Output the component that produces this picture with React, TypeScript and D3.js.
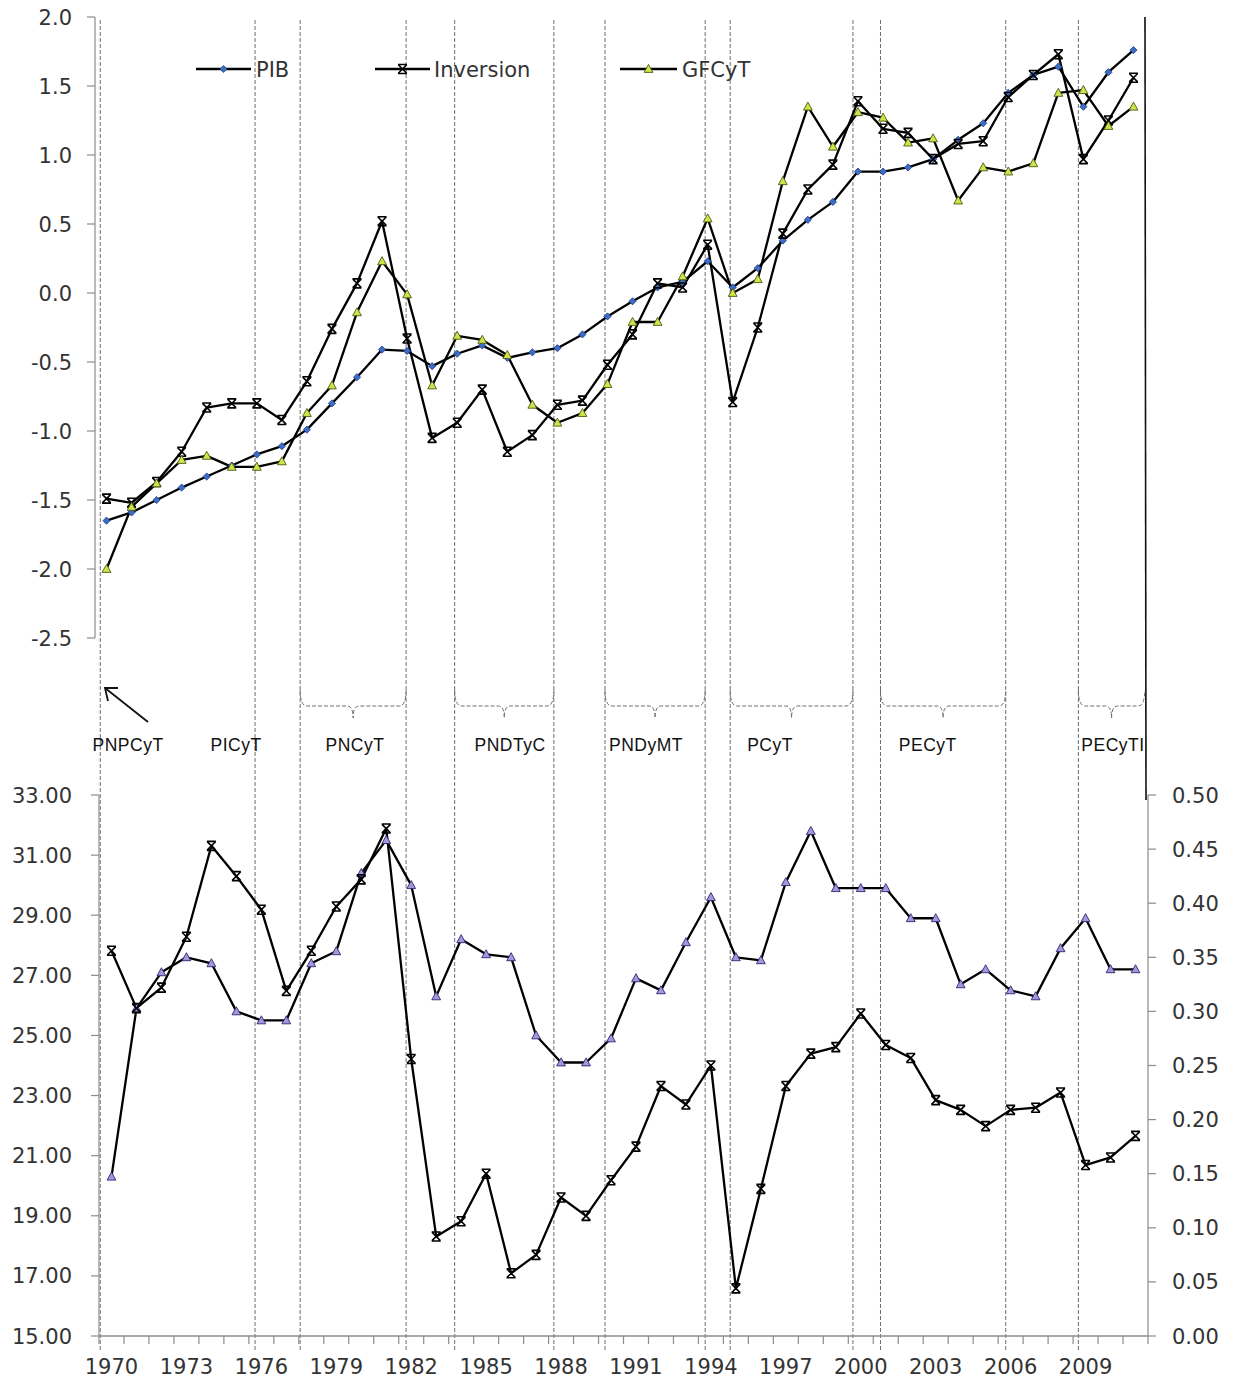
import React, { useEffect } from "react";
import * as d3 from "d3";

// Years on the horizontal axis
const years: number[] = [
  1970, 1971, 1972, 1973, 1974, 1975, 1976, 1977, 1978, 1979, 1980, 1981, 1982, 1983,
  1984, 1985, 1986, 1987, 1988, 1989, 1990, 1991, 1992, 1993, 1994, 1995, 1996, 1997,
  1998, 1999, 2000, 2001, 2002, 2003, 2004, 2005, 2006, 2007, 2008, 2009, 2010, 2011,
];

// Standardised series (upper panel)
const pib: number[] = [
  -1.65, -1.59, -1.5, -1.41, -1.33, -1.25, -1.17, -1.11, -0.99, -0.8, -0.61, -0.41, -0.42, -0.53,
  -0.44, -0.38, -0.47, -0.43, -0.4, -0.3, -0.17, -0.06, 0.04, 0.08, 0.23, 0.04, 0.18, 0.38,
  0.53, 0.66, 0.88, 0.88, 0.91, 0.97, 1.11, 1.23, 1.45, 1.58, 1.64, 1.35, 1.6, 1.76,
];
const inversion: number[] = [
  -1.49, -1.52, -1.37, -1.15, -0.83, -0.8, -0.8, -0.92, -0.64, -0.26, 0.07, 0.52, -0.33, -1.05,
  -0.94, -0.7, -1.15, -1.03, -0.81, -0.78, -0.52, -0.3, 0.07, 0.04, 0.35, -0.79, -0.25, 0.43,
  0.75, 0.93, 1.39, 1.19, 1.16, 0.97, 1.08, 1.1, 1.42, 1.58, 1.73, 0.97, 1.25, 1.56,
];
const gfcyt: number[] = [
  -2.0, -1.55, -1.38, -1.21, -1.18, -1.26, -1.26, -1.22, -0.87, -0.67, -0.14, 0.23, -0.01, -0.67,
  -0.31, -0.34, -0.45, -0.81, -0.94, -0.87, -0.66, -0.21, -0.21, 0.12, 0.54, 0.0, 0.1, 0.81,
  1.35, 1.06, 1.31, 1.27, 1.09, 1.12, 0.67, 0.91, 0.88, 0.94, 1.45, 1.47, 1.21, 1.35,
];

// Lower panel: left-axis series (triangles) and right-axis series (crosses)
const serieIzquierda: number[] = [
  20.3, 25.9, 27.1, 27.6, 27.4, 25.8, 25.5, 25.5, 27.4, 27.8, 30.4, 31.5, 30.0, 26.3,
  28.2, 27.7, 27.6, 25.0, 24.1, 24.1, 24.9, 26.9, 26.5, 28.1, 29.6, 27.6, 27.5, 30.1,
  31.8, 29.9, 29.9, 29.9, 28.9, 28.9, 26.7, 27.2, 26.5, 26.3, 27.9, 28.9, 27.2, 27.2,
];
const serieDerecha: number[] = [
  0.356, 0.303, 0.322, 0.369, 0.453, 0.425, 0.394, 0.319, 0.356, 0.397, 0.422, 0.469, 0.256, 0.092,
  0.106, 0.15, 0.058, 0.075, 0.128, 0.111, 0.144, 0.175, 0.231, 0.214, 0.25, 0.044, 0.136, 0.231,
  0.261, 0.267, 0.298, 0.269, 0.257, 0.218, 0.209, 0.194, 0.209, 0.211, 0.225, 0.158, 0.165, 0.185,
];

// Axis ticks
const topTicks: number[] = [2.0, 1.5, 1.0, 0.5, 0.0, -0.5, -1.0, -1.5, -2.0, -2.5];
const leftTicks: number[] = [33, 31, 29, 27, 25, 23, 21, 19, 17, 15];
const rightTicks: number[] = [0.5, 0.45, 0.4, 0.35, 0.3, 0.25, 0.2, 0.15, 0.1, 0.05, 0.0];
const yearLabels: number[] = [1970, 1973, 1976, 1979, 1982, 1985, 1988, 1991, 1994, 1997, 2000, 2003, 2006, 2009];

// Policy periods (in fractional years)
const periodNames: string[] = ["PNPCyT", "PICyT", "PNCyT", "PNDTyC", "PNDyMT", "PCyT", "PECyT", "PECyTI"];
const periodStarts: number[] = [1969.75, 1975.93, 1977.73, 1983.9, 1989.9, 1994.9, 2000.9, 2008.8];
const periodEnds: number[] = [1975.93, 1977.73, 1981.96, 1987.86, 1993.9, 1999.8, 2005.9, 2011.45];
const periodBraced: boolean[] = [false, false, true, true, true, true, true, true];
const periodLabelAt: number[] = [1970.86, 1975.17, 1979.92, 1986.11, 1991.54, 1996.49, 2002.79, 2010.18];

const AXIS = "#8c8c8c";
const TEXT = "#333333";
const FONT = "'DejaVu Sans', sans-serif";

const diamond = "M0,-3.6L3.6,0L0,3.6L-3.6,0Z";
const triangle = "M0,-4.6L4.4,3.4L-4.4,3.4Z";
const crossBar = "M-4.5,-4.5H4.5M-4.5,4.5H4.5M-4.2,-4.2L4.2,4.2M4.2,-4.2L-4.2,4.2";

type MarkerKind = "diamond" | "triangle" | "cross" | "triangleP";

function Marker({ kind, x, y }: { kind: MarkerKind; x: number; y: number }) {
  const t = `translate(${x},${y})`;
  if (kind === "diamond")
    return <path d={diamond} transform={t} fill="#3d6cc4" stroke="#1f3f88" strokeWidth={0.8} />;
  if (kind === "triangle")
    return <path d={triangle} transform={t} fill="#d2e24c" stroke="#4a5a10" strokeWidth={0.9} />;
  if (kind === "triangleP")
    return <path d={triangle} transform={t} fill="#a396dc" stroke="#2e2670" strokeWidth={0.9} />;
  return <path d={crossBar} transform={t} fill="none" stroke="#000" strokeWidth={1.6} />;
}

export default function App() {
  useEffect(() => {
    document.body.style.margin = "0";
  }, []);

  const W = 1233;
  const H = 1386;

  // Upper panel scales
  const xTop = d3.scaleBand<number>().domain(years).range([94, 1146]);
  const cxTop = (yr: number) => (xTop(yr) as number) + xTop.bandwidth() / 2;
  const yTop = d3.scaleLinear().domain([-2.5, 2.0]).range([638, 17]);
  const yearX = d3.scaleLinear().domain([1970, 2011]).range([cxTop(1970), cxTop(2011)]);

  // Lower panel scales
  const xBot = d3.scaleBand<number>().domain(years).range([99, 1148]);
  const cxBot = (yr: number) => (xBot(yr) as number) + xBot.bandwidth() / 2;
  const yLeft = d3.scaleLinear().domain([15, 33]).range([1336, 795]);
  const yRight = d3.scaleLinear().domain([0, 0.5]).range([1336, 795]);

  const lineTop = d3
    .line<number>()
    .x((_, i) => cxTop(years[i]))
    .y((d) => yTop(d));
  const lineLeft = d3
    .line<number>()
    .x((_, i) => cxBot(years[i]))
    .y((d) => yLeft(d));
  const lineRight = d3
    .line<number>()
    .x((_, i) => cxBot(years[i]))
    .y((d) => yRight(d));

  const boundaries = Array.from(new Set([...periodStarts, ...periodEnds.slice(0, -1)])).sort((a, b) => a - b);

  const topSeries: { data: number[]; kind: MarkerKind }[] = [
    { data: pib, kind: "diamond" },
    { data: inversion, kind: "cross" },
    { data: gfcyt, kind: "triangle" },
  ];

  const braceY = 706;
  const bracePath = (x0: number, x1: number) => {
    const xm = (x0 + x1) / 2;
    return `M${x0},690 Q${x0},${braceY} ${x0 + 7},${braceY} L${xm - 6},${braceY} Q${xm},${braceY} ${xm},${braceY + 12} Q${xm},${braceY} ${xm + 6},${braceY} L${x1 - 7},${braceY} Q${x1},${braceY} ${x1},690`;
  };

  const legend = [
    { name: "PIB", kind: "diamond" as MarkerKind, x0: 196, x1: 251, tx: 256 },
    { name: "Inversion", kind: "cross" as MarkerKind, x0: 375, x1: 430, tx: 434 },
    { name: "GFCyT", kind: "triangle" as MarkerKind, x0: 620, x1: 677, tx: 682 },
  ];

  return (
    <svg width={W} height={H} style={{ display: "block", background: "#fff" }} fontFamily={FONT}>
      {/* period boundary lines */}
      {boundaries.map((b, i) => (
        <line
          key={`b${i}`}
          x1={yearX(b)}
          x2={yearX(b)}
          y1={20}
          y2={1350}
          stroke="#6e6e6e"
          strokeWidth={1}
          strokeDasharray="4,2"
        />
      ))}

      {/* upper panel left axis */}
      <line x1={95} x2={95} y1={yTop(2.0)} y2={yTop(-2.5)} stroke={AXIS} strokeWidth={1.2} />
      {topTicks.map((t) => (
        <g key={`tt${t}`}>
          <line x1={87} x2={95} y1={yTop(t)} y2={yTop(t)} stroke={AXIS} strokeWidth={1.2} />
          <text x={72} y={yTop(t)} dy="0.36em" textAnchor="end" fontSize={21} fill={TEXT}>
            {t.toFixed(1)}
          </text>
        </g>
      ))}

      {/* upper panel right border */}
      <line x1={1145} x2={1146} y1={17} y2={800} stroke="#111" strokeWidth={1.6} />

      {/* upper panel series */}
      {topSeries.map((s, si) => (
        <path key={`tl${si}`} d={lineTop(s.data) as string} fill="none" stroke="#000" strokeWidth={2.3} strokeLinejoin="round" />
      ))}
      {topSeries.map((s, si) =>
        s.data.map((v, i) => <Marker key={`tm${si}-${i}`} kind={s.kind} x={cxTop(years[i])} y={yTop(v)} />)
      )}

      {/* legend */}
      {legend.map((l) => (
        <g key={l.name}>
          <line x1={l.x0} x2={l.x1} y1={69} y2={69} stroke="#000" strokeWidth={2.3} />
          <Marker kind={l.kind} x={(l.x0 + l.x1) / 2} y={69} />
          <text x={l.tx} y={69} dy="0.36em" fontSize={21} fill={TEXT}>
            {l.name}
          </text>
        </g>
      ))}

      {/* period braces and names */}
      {periodNames.map((n, i) =>
        periodBraced[i] ? (
          <path
            key={`br${i}`}
            d={bracePath(yearX(periodStarts[i]), Math.min(yearX(periodEnds[i]), 1145))}
            fill="none"
            stroke="#6e6e6e"
            strokeWidth={1}
            strokeDasharray="4,2"
          />
        ) : null
      )}
      {periodNames.map((n, i) => (
        <text
          key={`pn${i}`}
          x={yearX(periodLabelAt[i])}
          y={745}
          dy="0.36em"
          textAnchor="middle"
          fontSize={17.5}
          letterSpacing={0.5}
          fontFamily="'Liberation Sans', Arial, sans-serif"
          fill="#111"
        >
          {n}
        </text>
      ))}
      {/* arrow pointing at the first period boundary */}
      <g stroke="#111" strokeWidth={1.8} fill="none">
        <line x1={148} y1={722} x2={105} y2={688} />
        <polyline points="118,688 105,688 108,701" />
      </g>

      {/* lower panel axes */}
      <line x1={99} x2={99} y1={795} y2={1336} stroke={AXIS} strokeWidth={1.2} />
      {leftTicks.map((t) => (
        <g key={`lt${t}`}>
          <line x1={91} x2={99} y1={yLeft(t)} y2={yLeft(t)} stroke={AXIS} strokeWidth={1.2} />
          <text x={72} y={yLeft(t)} dy="0.36em" textAnchor="end" fontSize={21} fill={TEXT}>
            {t.toFixed(2)}
          </text>
        </g>
      ))}
      <line x1={1148} x2={1148} y1={795} y2={1336} stroke={AXIS} strokeWidth={1.2} />
      {rightTicks.map((t) => (
        <g key={`rt${t}`}>
          <line x1={1148} x2={1156} y1={yRight(t)} y2={yRight(t)} stroke={AXIS} strokeWidth={1.2} />
          <text x={1172} y={yRight(t)} dy="0.36em" textAnchor="start" fontSize={21} fill={TEXT}>
            {t.toFixed(2)}
          </text>
        </g>
      ))}
      <line x1={99} x2={1148} y1={1336} y2={1336} stroke={AXIS} strokeWidth={1.4} />
      {years.map((yr) => (
        <line
          key={`xt${yr}`}
          x1={xBot(yr) as number}
          x2={xBot(yr) as number}
          y1={1336}
          y2={1344}
          stroke={AXIS}
          strokeWidth={1.2}
        />
      ))}
      <line x1={1148} x2={1148} y1={1336} y2={1344} stroke={AXIS} strokeWidth={1.2} />
      {yearLabels.map((yr) => (
        <text key={`xl${yr}`} x={cxBot(yr)} y={1366} dy="0.36em" textAnchor="middle" fontSize={21} fill={TEXT}>
          {yr}
        </text>
      ))}

      {/* lower panel series */}
      <path d={lineLeft(serieIzquierda) as string} fill="none" stroke="#000" strokeWidth={2.3} strokeLinejoin="round" />
      <path d={lineRight(serieDerecha) as string} fill="none" stroke="#000" strokeWidth={2.3} strokeLinejoin="round" />
      {serieIzquierda.map((v, i) => (
        <Marker key={`li${i}`} kind="triangleP" x={cxBot(years[i])} y={yLeft(v)} />
      ))}
      {serieDerecha.map((v, i) => (
        <Marker key={`rd${i}`} kind="cross" x={cxBot(years[i])} y={yRight(v)} />
      ))}
    </svg>
  );
}
